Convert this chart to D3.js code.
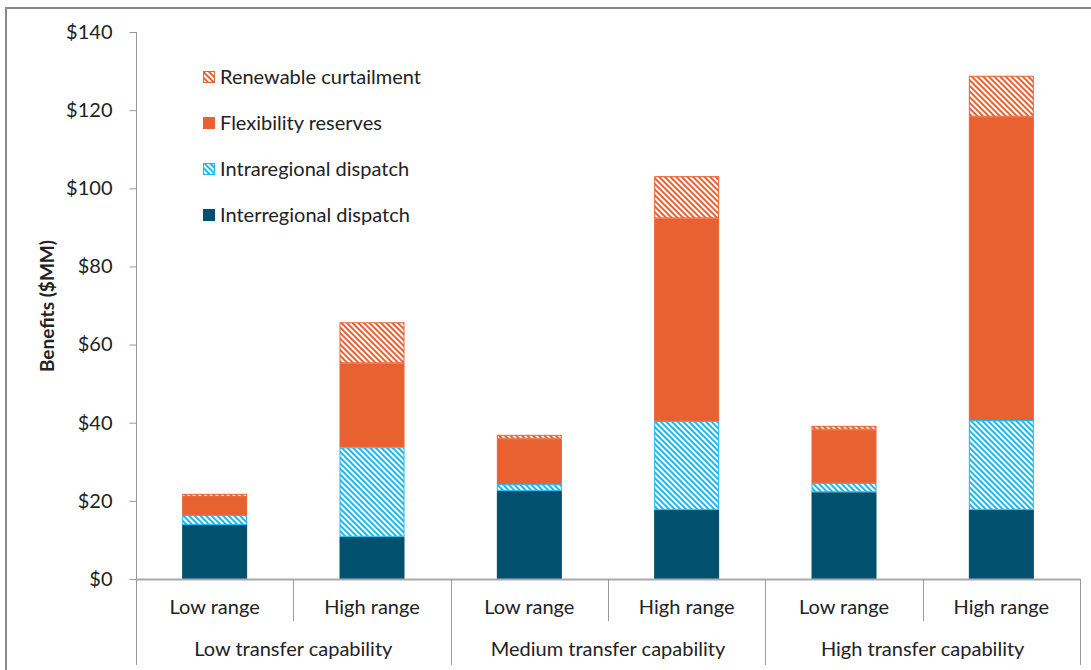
<!DOCTYPE html>
<html><head><meta charset="utf-8">
<script src="https://cdn.jsdelivr.net/npm/d3@7"></script>
<style>
html,body{margin:0;padding:0;background:#fff;}
text{font-family:Lato,"Open Sans",sans-serif;fill:#222;}
</style></head>
<body>
<svg id="chart" width="1091" height="670"></svg>
<script>
const groups = ["Low transfer capability","Medium transfer capability","High transfer capability"];
const ranges = ["Low range","High range"];
const seriesNames = ["Interregional dispatch","Intraregional dispatch","Flexibility reserves","Renewable curtailment"];
const interregional = [13.8,10.8,22.5,17.7,22.2,17.7];
const intraregional = [2.6,22.9,1.8,22.7,2.4,23.0];
const flexibility = [4.6,21.5,11.6,51.9,13.6,77.6];
const curtailment = [0.8,10.5,1.0,10.8,1.0,10.5];
const yTicks = [0,20,40,60,80,100,120,140];

const colors = {teal:"#01506e", cyan:"#1bb8ee", orange:"#e86131"};
const svg = d3.select("#chart");

const defs = svg.append("defs");
function hatch(id, col){
  const p = defs.append("pattern").attr("id",id).attr("patternUnits","userSpaceOnUse")
    .attr("width",4).attr("height",4).attr("patternTransform","rotate(-45)");
  p.append("rect").attr("width",4).attr("height",4).attr("fill","#fff");
  p.append("rect").attr("width",2).attr("height",4).attr("fill",col);
}
hatch("hCyan", colors.cyan);
hatch("hOrange", colors.orange);

const fills = [
  {fill:colors.teal, stroke:colors.teal},
  {fill:"url(#hCyan)", stroke:colors.cyan},
  {fill:colors.orange, stroke:colors.orange},
  {fill:"url(#hOrange)", stroke:colors.orange}
];

// outer border
svg.append("rect").attr("x",6).attr("y",8).attr("width",1200).attr("height",800)
  .attr("fill","none").attr("stroke","#8a8a8a").attr("stroke-width",2);

const x0 = 136, x1 = 1080, yTop = 32, yBase = 579;
const cats = [];
groups.forEach(g => ranges.forEach(r => cats.push(g+"|"+r)));
const x = d3.scaleBand().domain(cats).range([x0,x1]).paddingInner(0).paddingOuter(0);
const y = d3.scaleLinear().domain([0,140]).range([yBase,yTop]);

const data = cats.map((c,i)=>({cat:c, interregional:interregional[i], intraregional:intraregional[i], flexibility:flexibility[i], curtailment:curtailment[i]}));
const keys = ["interregional","intraregional","flexibility","curtailment"];
const stacked = d3.stack().keys(keys)(data);

const bw = x.bandwidth()*0.413;
stacked.forEach((layer,li)=>{
  svg.append("g").selectAll("rect").data(layer).join("rect")
    .attr("x", d => x(d.data.cat) + (x.bandwidth()-bw)/2 + 0.5)
    .attr("y", d => y(d[1]) + 0.5)
    .attr("width", bw - 1)
    .attr("height", d => Math.max(0, y(d[0]) - y(d[1]) - 1))
    .attr("fill", fills[li].fill)
    .attr("stroke", fills[li].stroke)
    .attr("stroke-width", 1);
});

// y axis
const yAxis = d3.axisLeft(y).tickValues(yTicks).tickSize(7).tickPadding(17).tickFormat(d=>"$"+d);
const ya = svg.append("g").attr("transform",`translate(${x0+0.5},0)`).call(yAxis);
ya.select(".domain").remove();
ya.selectAll(".tick line").attr("stroke","#999");
ya.selectAll(".tick text").attr("font-size",20).attr("fill","#222");
svg.append("line").attr("x1",x0+0.5).attr("x2",x0+0.5).attr("y1",y(140)).attr("y2",665).attr("stroke","#999");

// x axis baseline
svg.append("line").attr("x1",x0).attr("x2",x1).attr("y1",yBase+0.5).attr("y2",yBase+0.5).attr("stroke","#aaa").attr("stroke-width",2);

// separators
cats.forEach((c,i)=>{
  const xr = x(c) + x.bandwidth();
  const isGroupEnd = (i%2===1);
  svg.append("line").attr("x1",Math.round(xr)+0.5).attr("x2",Math.round(xr)+0.5)
    .attr("y1",yBase).attr("y2", isGroupEnd ? 665 : 621).attr("stroke","#999");
});

// category labels
svg.append("g").selectAll("text").data(cats).join("text")
  .attr("x", d => x(d) + x.bandwidth()/2)
  .attr("y", 614)
  .attr("text-anchor","middle").attr("font-size",20)
  .text(d => d.split("|")[1]);
svg.append("g").selectAll("text").data(groups).join("text")
  .attr("x", (g,i) => x(cats[i*2]) + x.bandwidth())
  .attr("y", 656)
  .attr("text-anchor","middle").attr("font-size",20)
  .text(d => d);

// y label
svg.append("text").attr("transform","translate(54,306) rotate(-90)")
  .attr("text-anchor","middle").attr("font-size",19).attr("font-weight","bold")
  .text("Benefits ($MM)");

// legend
const legendOrder = [3,2,1,0];
const lg = svg.append("g");
legendOrder.forEach((si,k)=>{
  const ly = 77 + k*46;
  lg.append("rect").attr("x",203.5).attr("y",ly-5.5).attr("width",11).attr("height",11)
    .attr("fill",fills[si].fill).attr("stroke",fills[si].stroke);
  lg.append("text").attr("x",220).attr("y",ly+7).attr("font-size",20).text(seriesNames[si]);
});
</script>
</body></html>
